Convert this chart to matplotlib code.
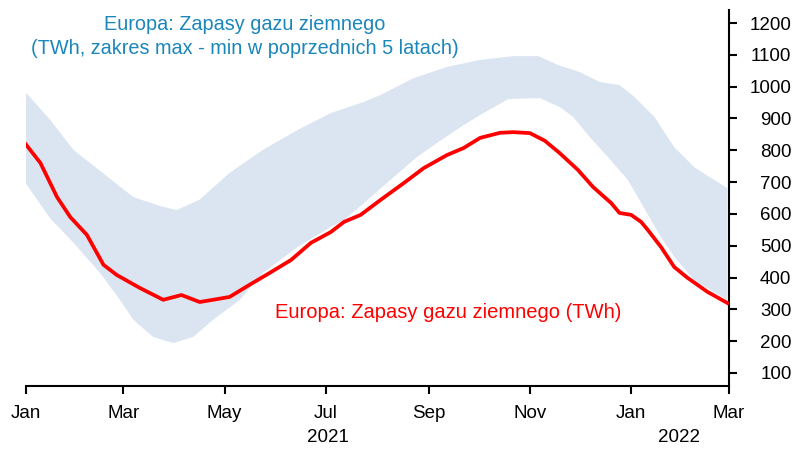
import pandas as pd
import numpy as np
import matplotlib
matplotlib.use('Agg')
import matplotlib.pyplot as plt
import matplotlib.dates as mdates
import matplotlib.transforms as mtransforms

plt.rcParams['font.family'] = ['Liberation Sans', 'DejaVu Sans']

# Zapasy gazu w Europie (TWh)
daty_zapasy = ['2021-01-01', '2021-01-10', '2021-01-20', '2021-01-28', '2021-02-07', '2021-02-17',
               '2021-02-25', '2021-03-11', '2021-03-25', '2021-04-05', '2021-04-16', '2021-04-24',
               '2021-05-04', '2021-05-16', '2021-05-28', '2021-06-10', '2021-06-22', '2021-07-04',
               '2021-07-12', '2021-07-22', '2021-08-03', '2021-08-17', '2021-08-29', '2021-09-12',
               '2021-09-22', '2021-10-02', '2021-10-14', '2021-10-22', '2021-11-01', '2021-11-10',
               '2021-11-19', '2021-11-30', '2021-12-09', '2021-12-20', '2021-12-25', '2022-01-01',
               '2022-01-07', '2022-01-11', '2022-01-19', '2022-01-27', '2022-02-04', '2022-02-16',
               '2022-02-28']
zapasy = [820, 760, 653, 590, 534, 440, 408, 367, 330, 345, 323, 330,
          339, 377, 414, 455, 509, 543, 575, 597, 644, 697, 744, 785,
          807, 839, 855, 857, 854, 830, 791, 738, 685, 634, 603, 597,
          575, 550, 496, 433, 399, 355, 320]

# Zakres max z poprzednich 5 lat
daty_max = ['2021-01-01', '2021-01-16', '2021-01-30', '2021-02-15', '2021-03-07', '2021-03-23',
            '2021-04-02', '2021-04-16', '2021-05-04', '2021-05-24', '2021-06-14', '2021-07-04',
            '2021-07-24', '2021-08-03', '2021-08-23', '2021-09-12', '2021-10-02', '2021-10-22',
            '2021-11-06', '2021-11-18', '2021-12-01', '2021-12-13', '2021-12-25', '2022-01-03',
            '2022-01-15', '2022-01-27', '2022-02-08', '2022-02-20', '2022-02-28']
zakres_max = [983, 895, 801, 735, 653, 625, 612, 645, 729, 801, 864, 917,
              952, 974, 1027, 1062, 1084, 1096, 1096, 1068, 1046, 1015, 1005, 968,
              905, 810, 747, 707, 681]

# Zakres min z poprzednich 5 lat
daty_min = ['2021-01-01', '2021-01-16', '2021-01-30', '2021-02-15', '2021-02-27', '2021-03-07',
            '2021-03-19', '2021-03-31', '2021-04-12', '2021-04-24', '2021-05-10', '2021-05-24',
            '2021-06-14', '2021-07-04', '2021-07-12', '2021-07-24', '2021-08-09', '2021-08-25',
            '2021-09-06', '2021-09-22', '2021-10-02', '2021-10-19', '2021-11-07', '2021-11-19',
            '2021-11-27', '2021-12-07', '2021-12-18', '2021-12-30', '2022-01-05', '2022-01-19',
            '2022-01-27', '2022-02-08', '2022-02-28']
zakres_min = [697, 585, 509, 414, 329, 267, 213, 194, 213, 267, 329, 414,
              496, 559, 581, 634, 707, 779, 823, 879, 911, 961, 964, 936,
              905, 842, 779, 707, 653, 527, 465, 392, 329]

niebieski = '#1b86b9'
czerwony = '#ff0000'

fig = plt.figure(figsize=(7.97, 4.5), dpi=100)
ax = fig.add_axes([25.5 / 797, 1 - 386 / 450, (729 - 25.5) / 797, (386 - 10) / 450])

# Pasmo max - min
x_max = mdates.date2num(pd.to_datetime(daty_max))
x_min = mdates.date2num(pd.to_datetime(daty_min))
ax.fill(np.concatenate([x_max, x_min[::-1]]),
        np.concatenate([zakres_max, zakres_min[::-1]]),
        color='#dbe5f1', lw=0, zorder=1)

# Zapasy
ax.plot(pd.to_datetime(daty_zapasy), zapasy, color=czerwony, lw=2.7, zorder=3,
        solid_joinstyle='round')

ax.set_xlim(pd.Timestamp('2021-01-01'), pd.Timestamp('2022-03-01'))
ax.set_ylim(59, 1241)

# Osie
for s in ['left', 'top']:
    ax.spines[s].set_visible(False)
for s in ['bottom', 'right']:
    ax.spines[s].set_linewidth(1.5)

ax.yaxis.tick_right()
ax.set_yticks(range(100, 1201, 100))
ax.tick_params(axis='y', direction='out', length=6, width=1.5, labelsize=13.5, pad=39)
for lab in ax.get_yticklabels():
    lab.set_horizontalalignment('right')

ax.xaxis.set_major_locator(mdates.MonthLocator(bymonth=[1, 3, 5, 7, 9, 11]))
ax.xaxis.set_major_formatter(mdates.DateFormatter('%b'))
ax.tick_params(axis='x', direction='out', length=6, width=1.5, labelsize=13.5, pad=8)

trans = mtransforms.blended_transform_factory(ax.transData, ax.transAxes)
ax.text(pd.Timestamp('2021-07-02'), -0.138, '2021', transform=trans, ha='center', va='center', fontsize=13.5)
ax.text(pd.Timestamp('2022-01-30'), -0.138, '2022', transform=trans, ha='center', va='center', fontsize=13.5)

# Opisy serii
fig.text(245 / 797, 1 - 25 / 450, 'Europa: Zapasy gazu ziemnego', color=niebieski,
         ha='center', va='center', fontsize=14.3)
fig.text(245 / 797, 1 - 48 / 450, '(TWh, zakres max - min w poprzednich 5 latach)', color=niebieski,
         ha='center', va='center', fontsize=14.3)
fig.text(275 / 797, 1 - 313 / 450, 'Europa: Zapasy gazu ziemnego (TWh)', color=czerwony,
         ha='left', va='center', fontsize=14.5)

fig.savefig('out.png', dpi=100)
